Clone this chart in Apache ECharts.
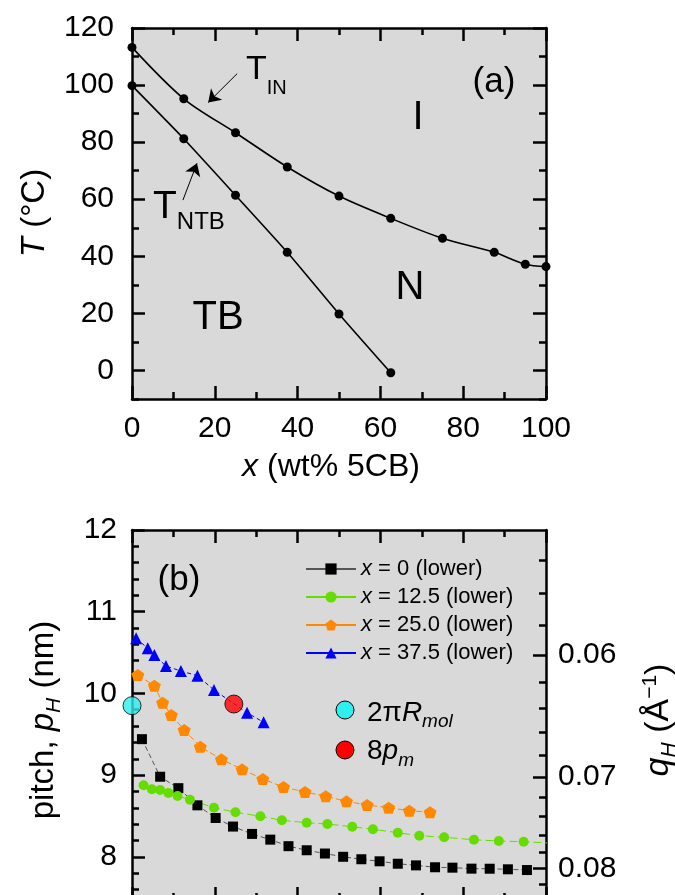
<!DOCTYPE html>
<html><head><meta charset="utf-8">
<script src="https://cdn.jsdelivr.net/npm/echarts@6/dist/echarts.min.js"></script>
<style>html,body{margin:0;padding:0;background:#fff}#c{width:675px;height:895px}</style>
</head><body><div id="c"></div>
<script>
// ---------- Panel (a): phase diagram ----------
const xIN = [0, 12.5, 25, 37.5, 50, 62.5, 75, 87.5, 95, 100];
const tIN = [113.2, 95.2, 83.3, 71.3, 61.1, 53.3, 46.3, 41.4, 37.2, 36.4];
const xNTB = [0, 12.5, 25, 37.5, 50, 62.5];
const tNTB = [99.8, 81.2, 61.4, 41.4, 19.8, -0.8];
const aYTicks = [0, 20, 40, 60, 80, 100, 120];
const aYMinor = [-10, 10, 30, 50, 70, 90, 110];
const arrowIN = [[25.4, 104.0], [18.4, 93.9]];
const arrowNTB = [[12.3, 59.7], [15.7, 72.6]];

// ---------- Panel (b): pitch ----------
const x0 = [1.2, 3.4, 5.6, 7.9, 10.1, 12.2, 14.5, 16.7, 18.9, 21.1, 23.3, 25.5, 27.7, 29.9, 32.1, 34.3, 36.6, 38.7, 41.0, 43.2, 45.4, 47.7];
const p0 = [9.44, 8.98, 8.84, 8.63, 8.475, 8.37, 8.28, 8.21, 8.13, 8.08, 8.04, 8.0, 7.97, 7.945, 7.915, 7.895, 7.872, 7.867, 7.855, 7.854, 7.847, 7.838];
const x125 = [1.4, 2.4, 3.4, 4.4, 5.5, 7.0, 9.9, 12.5, 15.5, 18.1, 21.1, 23.6, 26.6, 29.1, 32.1, 34.7, 37.7, 41.3, 44.3, 47.3, 51.0];
const p125 = [8.875, 8.826, 8.818, 8.781, 8.744, 8.699, 8.601, 8.545, 8.496, 8.447, 8.417, 8.401, 8.368, 8.337, 8.295, 8.258, 8.239, 8.209, 8.193, 8.185, 8.165];
const x250 = [0.7, 2.7, 3.7, 4.75, 6.3, 8.25, 10.8, 13.3, 15.8, 18.3, 20.9, 23.4, 25.9, 28.4, 31.0, 33.5, 36.0];
const p250 = [10.225, 10.094, 9.886, 9.736, 9.552, 9.348, 9.193, 9.071, 8.952, 8.854, 8.793, 8.741, 8.679, 8.634, 8.601, 8.564, 8.545];
const x375 = [0.5, 1.9, 2.7, 4.1, 5.9, 7.9, 9.9, 13.9, 15.9];
const p375 = [10.674, 10.552, 10.47, 10.335, 10.274, 10.217, 10.042, 9.764, 9.646];
const xRmol = [0];
const pRmol = [9.85];
const xPm = [12.3];
const pPm = [9.87];
const qTicks = [0.06, 0.07, 0.08];
const qMinor = [0.054, 0.056, 0.058, 0.062, 0.064, 0.066, 0.068, 0.072, 0.074, 0.076, 0.078, 0.082, 0.084, 0.086, 0.088];
const legendNames = ['x = 0 (lower)', 'x = 12.5 (lower)', 'x = 25.0 (lower)', 'x = 37.5 (lower)'];

const FONT = '"Liberation Sans", Arial, Helvetica, sans-serif';
const BG = '#d9d9d9';
const pFromQ = q => 2 * Math.PI / (q * 10);   // nm from Å^-1
const qFromP = p => 2 * Math.PI / (p * 10);
const zip = (a, b) => a.map((v, i) => [v, b[i]]);

const mctx = document.createElement('canvas').getContext('2d');
function tw(t, size, italic) { mctx.font = (italic ? 'italic ' : '') + size + 'px ' + FONT; return mctx.measureText(t).width; }
// pieces: [text, size, italic, dy]
function label(pieces, x, y, opts) {
  opts = opts || {};
  const widths = pieces.map(p => tw(p[0], p[1], p[2]));
  const total = widths.reduce((s, w) => s + w, 0);
  let cx = opts.align === 'left' ? 0 : (opts.align === 'right' ? -total : -total / 2);
  const children = pieces.map((p, i) => {
    const el = { type: 'text', x: cx, y: p[3] || 0, style: { text: p[0], fontSize: p[1], fontStyle: p[2] ? 'italic' : 'normal', fontFamily: FONT, fill: '#000', align: 'left', verticalAlign: 'middle', textAlign: 'left', textVerticalAlign: 'middle' } };
    cx += widths[i];
    return el;
  });
  return { type: 'group', x: x, y: y, rotation: opts.rot || 0, silent: true, z: 100, children: children };
}

const axLine = { show: true, onZero: false, lineStyle: { color: '#000', width: 2.5 } };
const noLine = { show: false, onZero: false };
function majT(len, vals) { const o = { show: true, inside: true, length: len, lineStyle: { color: '#000', width: 2.5 } }; if (vals) o.customValues = vals; return o; }
function minT(split) { return { show: true, splitNumber: split, length: 7, lineStyle: { color: '#000', width: 2.5 } }; }
const noLab = { show: false };
const noTick = { show: false };
const noSplit = { show: false };
const tickFont = { fontSize: 30, color: '#000', fontFamily: FONT };

const chart = echarts.init(document.getElementById('c'), null, { renderer: 'canvas', width: 675, height: 895 });

const gA = { left: 132, top: 28, width: 414, height: 371, outerBoundsMode: 'none', containLabel: false };
const gB = { left: 132, top: 530, width: 414, height: 408.5, outerBoundsMode: 'none', containLabel: false };

const option = {
  backgroundColor: '#fff',
  animation: false,
  grid: [
    Object.assign({ show: true, backgroundColor: BG, borderWidth: 0 }, gA),
    Object.assign({ show: false }, gA),
    Object.assign({ show: true, backgroundColor: BG, borderWidth: 0 }, gB),
    Object.assign({ show: false }, gB)
  ],
  xAxis: [
    // panel a main
    { type: 'value', gridIndex: 0, position: 'bottom', min: 0, max: 100, interval: 20, axisLine: axLine, axisTick: majT(13), minorTick: minT(2), axisLabel: Object.assign({ margin: 15 }, tickFont), splitLine: noSplit },
    { type: 'value', gridIndex: 0, position: 'top', min: 0, max: 100, interval: 20, axisLine: axLine, axisTick: majT(13), minorTick: minT(2), axisLabel: noLab, splitLine: noSplit },
    // panel a overlay (minor y ticks)
    { type: 'value', gridIndex: 1, position: 'bottom', min: 0, max: 100, axisLine: noLine, axisTick: noTick, axisLabel: noLab, splitLine: noSplit },
    // panel b main
    { type: 'value', gridIndex: 2, position: 'bottom', offset: -38.5, min: 0, max: 50, interval: 10, axisLine: axLine, axisTick: majT(13), minorTick: minT(2), axisLabel: noLab, splitLine: noSplit },
    { type: 'value', gridIndex: 2, position: 'top', min: 0, max: 50, interval: 10, axisLine: axLine, axisTick: majT(13), minorTick: minT(2), axisLabel: noLab, splitLine: noSplit },
    // panel b overlay (minor q ticks)
    { type: 'value', gridIndex: 3, position: 'bottom', min: 0, max: 50, axisLine: noLine, axisTick: noTick, axisLabel: noLab, splitLine: noSplit }
  ],
  yAxis: [
    // panel a main
    { type: 'value', gridIndex: 0, position: 'left', min: -10, max: 120, axisLine: axLine, axisTick: majT(13, aYTicks), axisLabel: Object.assign({ margin: 18, customValues: aYTicks }, tickFont), splitLine: noSplit },
    { type: 'value', gridIndex: 0, position: 'right', min: -10, max: 120, axisLine: axLine, axisTick: majT(13, aYTicks), axisLabel: noLab, splitLine: noSplit },
    // panel a overlay
    { type: 'value', gridIndex: 1, position: 'left', min: -10, max: 120, axisLine: noLine, axisTick: majT(7, aYMinor), axisLabel: noLab, splitLine: noSplit },
    { type: 'value', gridIndex: 1, position: 'right', min: -10, max: 120, axisLine: noLine, axisTick: majT(7, aYMinor), axisLabel: noLab, splitLine: noSplit },
    // panel b main
    { type: 'value', gridIndex: 2, position: 'left', min: 7, max: 12, interval: 1, axisLine: axLine, axisTick: majT(13), minorTick: minT(5), axisLabel: Object.assign({ margin: 15 }, tickFont), splitLine: noSplit },
    { type: 'value', gridIndex: 2, position: 'right', min: 7, max: 12, axisLine: axLine, axisTick: majT(13, qTicks.map(pFromQ)), axisLabel: Object.assign({ margin: 12, customValues: qTicks.map(pFromQ), formatter: v => qFromP(v).toFixed(2) }, tickFont), splitLine: noSplit },
    // panel b overlay
    { type: 'value', gridIndex: 3, position: 'right', min: 7, max: 12, axisLine: noLine, axisTick: majT(7, qMinor.map(pFromQ)), axisLabel: noLab, splitLine: noSplit }
  ],
  legend: [{
    data: legendNames, orient: 'vertical', left: 300, top: 553, itemWidth: 50, itemHeight: 14, itemGap: 6,
    formatter: n => '{i|x}' + n.slice(1),
    textStyle: { fontSize: 22, color: '#000', fontFamily: FONT, lineHeight: 22, rich: { i: { fontStyle: 'italic', fontSize: 22, fontFamily: FONT, color: '#000', lineHeight: 22 } } },
    lineStyle: { type: 'solid' }
  }],
  series: [
    { name: 'TIN', type: 'line', xAxisIndex: 0, yAxisIndex: 0, data: zip(xIN, tIN), smooth: 0.3, symbol: 'circle', symbolSize: 9, clip: false,
      itemStyle: { color: '#000' }, lineStyle: { color: '#000', width: 1.6 }, z: 5,
      markLine: { silent: true, symbol: ['none', 'arrow'], symbolSize: 12, label: { show: false }, lineStyle: { color: '#000', width: 1, type: 'solid' },
        data: [[{ coord: arrowIN[0] }, { coord: arrowIN[1] }], [{ coord: arrowNTB[0] }, { coord: arrowNTB[1] }]] } },
    { name: 'TNTB', type: 'line', xAxisIndex: 0, yAxisIndex: 0, data: zip(xNTB, tNTB), smooth: 0.2, symbol: 'circle', symbolSize: 9, clip: false,
      itemStyle: { color: '#000' }, lineStyle: { color: '#000', width: 1.6 }, z: 5 },
    { name: legendNames[0], type: 'line', xAxisIndex: 3, yAxisIndex: 4, data: zip(x0, p0), symbol: 'rect', symbolSize: 10,
      itemStyle: { color: '#000' }, lineStyle: { color: '#555', width: 1, type: [5, 3] }, z: 5 },
    { name: legendNames[1], type: 'line', xAxisIndex: 3, yAxisIndex: 4, data: zip(x125, p125), symbol: 'circle', symbolSize: 10, clip: true,
      itemStyle: { color: '#66dd00' }, lineStyle: { color: '#66dd00', width: 1, type: [8, 4] }, z: 5 },
    { name: legendNames[2], type: 'line', xAxisIndex: 3, yAxisIndex: 4, data: zip(x250, p250),
      symbol: 'path://M0,-10 L9.51,-3.09 L5.88,8.09 L-5.88,8.09 L-9.51,-3.09 Z', symbolSize: [13, 12],
      itemStyle: { color: '#ff8800' }, lineStyle: { color: '#ff8800', width: 1, type: [6, 3] }, z: 5 },
    { name: legendNames[3], type: 'line', xAxisIndex: 3, yAxisIndex: 4, data: zip(x375, p375), symbol: 'triangle', symbolSize: 12,
      itemStyle: { color: '#0000ff' }, lineStyle: { color: '#0000ff', width: 1, type: [4, 3] }, z: 5 },
    { name: 'Rmol', type: 'scatter', xAxisIndex: 3, yAxisIndex: 4, data: zip(xRmol, pRmol), symbol: 'circle', symbolSize: 18, clip: false,
      itemStyle: { color: '#2eeeee', borderColor: '#000', borderWidth: 1 }, z: 6 },
    { name: 'pm', type: 'scatter', xAxisIndex: 3, yAxisIndex: 4, data: zip(xPm, pPm), symbol: 'circle', symbolSize: 18, clip: false,
      itemStyle: { color: '#ff0000', borderColor: '#000', borderWidth: 1 }, z: 6 }
  ],
  graphic: [
    // axis titles
    label([['T', 33, true], [' (°C)', 33, false]], 35, 213, { rot: Math.PI / 2 }),
    label([['x', 32, true], [' (wt% 5CB)', 32, false]], 331, 467),
    label([['pitch, ', 33, false], ['p', 33, true], ['H', 21, true, 10], [' (nm)', 33, false]], 44, 720, { rot: Math.PI / 2 }),
    label([['q', 34, true], ['H', 21, true, 10], [' (Å', 34, false], ['−1', 21, false, -9], [')', 34, false]], 659, 720, { rot: Math.PI / 2 }),
    // panel a annotations
    label([['T', 34, false], ['IN', 20, false, 18]], 246, 70, { align: 'left' }),
    label([['T', 39, false], ['NTB', 24, false, 15]], 153, 207, { align: 'left' }),
    label([['(a)', 35, false]], 494, 82),
    label([['I', 40, false]], 418, 118),
    label([['N', 40, false]], 410, 288),
    label([['TB', 40, false]], 218, 318),
    // panel b annotations
    label([['(b)', 35, false]], 179, 580),
    { type: 'circle', shape: { cx: 345, cy: 710, r: 9 }, style: { fill: '#2eeeee', stroke: '#000', lineWidth: 1 }, z: 100 },
    label([['2π', 28, false], ['R', 28, true], ['mol', 19, true, 9]], 367, 713, { align: 'left' }),
    { type: 'circle', shape: { cx: 345, cy: 750, r: 9 }, style: { fill: '#ff0000', stroke: '#000', lineWidth: 1 }, z: 100 },
    label([['8', 28, false], ['p', 28, true], ['m', 19, true, 10]], 367, 751, { align: 'left' })
  ]
};
chart.setOption(option);
</script>
</body></html>
